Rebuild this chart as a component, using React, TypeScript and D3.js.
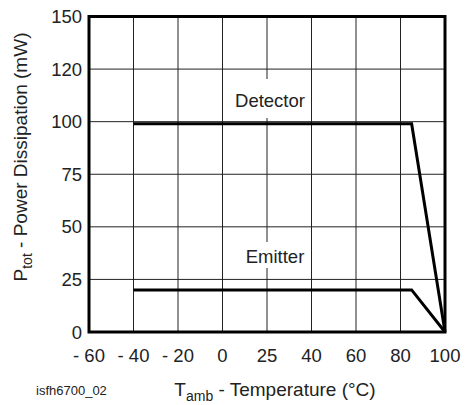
import React from "react";
import * as d3 from "d3";

const xTickValues = [-60, -40, -20, 0, 20, 40, 60, 80, 100];
const xTickLabels = ["- 60", "- 40", "- 20", "0", "25", "40", "60", "80", "100"];
const yTickValues = [0, 25, 50, 75, 100, 125, 150];
const yTickLabels = ["0", "25", "50", "75", "100", "120", "150"];

const detectorTemp = [-40, 85, 100];
const detectorPower = [99, 99, 0];
const emitterTemp = [-40, 85, 100];
const emitterPower = [20, 20, 0];

const seriesNames = ["Detector", "Emitter"];

const W = 466;
const H = 405;
const M = { left: 89, top: 16.5, right: 21, bottom: 73 };
const FONT = "'Liberation Sans', Arial, Helvetica, sans-serif";

export default function App() {
  const x = d3.scaleLinear().domain([-60, 100]).range([M.left, W - M.right]);
  const y = d3.scaleLinear().domain([0, 150]).range([H - M.bottom, M.top]);
  const line = d3
    .line<[number, number]>()
    .x((d) => x(d[0]))
    .y((d) => y(d[1]));
  const det: [number, number][] = detectorTemp.map((t, i) => [t, detectorPower[i]]);
  const emi: [number, number][] = emitterTemp.map((t, i) => [t, emitterPower[i]]);

  const x0 = x(-60), x1 = x(100), y0 = y(0), y1 = y(150);

  return (
    <svg
      width={W}
      height={H}
      style={{ position: "absolute", left: 0, top: 0, background: "#fff" }}
      fontFamily={FONT}
    >
      <rect x={0} y={0} width={W} height={H} fill="#fff" />
      {/* grid */}
      {xTickValues.map((v) => (
        <line key={"gx" + v} x1={x(v)} x2={x(v)} y1={y1} y2={y0} stroke="#222" strokeWidth={1} />
      ))}
      {yTickValues.map((v) => (
        <line key={"gy" + v} x1={x0} x2={x1} y1={y(v)} y2={y(v)} stroke="#222" strokeWidth={1} />
      ))}
      {/* label backgrounds */}
      <rect x={232} y={79} width={76} height={39} fill="#fff" />
      <rect x={240} y={242} width={68} height={26} fill="#fff" />
      <text x={270} y={107} textAnchor="middle" fontSize={18.5} fill="#222">
        {seriesNames[0]}
      </text>
      <text x={275} y={263} textAnchor="middle" fontSize={18.5} fill="#222">
        {seriesNames[1]}
      </text>
      {/* series */}
      <path d={line(det) || ""} fill="none" stroke="#000" strokeWidth={3} strokeLinejoin="miter" />
      <path d={line(emi) || ""} fill="none" stroke="#000" strokeWidth={3} strokeLinejoin="miter" />
      {/* frame */}
      <rect x={x0} y={y1} width={x1 - x0} height={y0 - y1} fill="none" stroke="#000" strokeWidth={3} />
      {/* tick labels */}
      {xTickValues.map((v, i) => (
        <text key={"tx" + v} x={x(v)} y={362} textAnchor="middle" fontSize={18.5} fill="#222">
          {xTickLabels[i]}
        </text>
      ))}
      {yTickValues.map((v, i) => (
        <text key={"ty" + v} x={82} y={y(v)} dy="0.36em" textAnchor="end" fontSize={18.5} fill="#222">
          {yTickLabels[i]}
        </text>
      ))}
      {/* axis titles */}
      <text x={275} y={396} textAnchor="middle" fontSize={19} fill="#222">
        T<tspan fontSize={14} dy={5}>amb</tspan>
        <tspan dy={-5}> - Temperature (°C)</tspan>
      </text>
      <text
        transform={`translate(27, 157) rotate(-90)`}
        textAnchor="middle"
        fontSize={19}
        fill="#222"
      >
        P<tspan fontSize={14} dy={5}>tot</tspan>
        <tspan dy={-5}> - Power Dissipation (mW)</tspan>
      </text>
      <text x={36} y={395} fontSize={13} fill="#222">
        isfh6700_02
      </text>
    </svg>
  );
}
